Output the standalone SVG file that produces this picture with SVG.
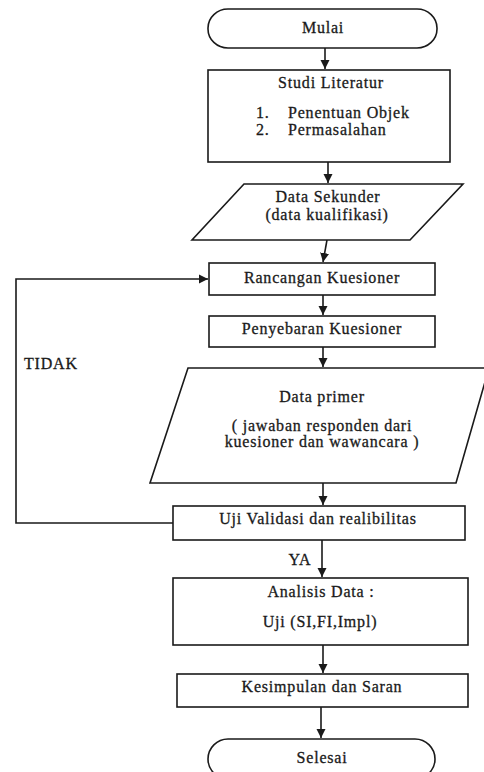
<svg xmlns="http://www.w3.org/2000/svg" width="484" height="772" viewBox="0 0 484 772">
<defs>
<marker id="ah" markerWidth="10" markerHeight="10" refX="9" refY="5" orient="auto" markerUnits="userSpaceOnUse">
<path d="M0,0.5 L9,5 L0,9.5 Z" fill="#1a1a1a"/>
</marker>
<style>
.s{fill:#fff;stroke:#1a1a1a;stroke-width:1.6}
.c{fill:none;stroke:#1a1a1a;stroke-width:1.6;marker-end:url(#ah)}
text{font-family:"Liberation Serif","Times New Roman",serif;font-size:16px;fill:#1a1a1a;stroke:#1a1a1a;stroke-width:0.3;letter-spacing:0.8px}
.m{text-anchor:middle}
</style>
</defs>
<rect width="484" height="772" fill="#fff"/>
<g id="connectors">
<line class="c" x1="325" y1="48" x2="325" y2="69"/>
<line class="c" x1="328" y1="162" x2="328" y2="183"/>
<line class="c" x1="327" y1="240" x2="323" y2="262"/>
<line class="c" x1="323" y1="295" x2="323" y2="315"/>
<line class="c" x1="323" y1="347" x2="323" y2="367"/>
<line class="c" x1="323" y1="483" x2="323" y2="505"/>
<line class="c" x1="322" y1="540" x2="322" y2="577"/>
<line class="c" x1="323" y1="645" x2="323" y2="673"/>
<line class="c" x1="321" y1="707" x2="321" y2="738"/>
<polyline class="c" points="173,523 16,523 16,279 208,279"/>
<text x="24" y="369">TIDAK</text>
<text class="m" x="300" y="565">YA</text>
</g>
<g id="mulai">
<rect class="s" x="208" y="9" width="229" height="39" rx="20" ry="19"/>
<text class="m" x="323" y="33">Mulai</text>
</g>
<g id="studi">
<rect class="s" x="208" y="70" width="242" height="92"/>
<text class="m" x="331" y="88">Studi Literatur</text>
<text x="256" y="118">1.</text>
<text x="288" y="118">Penentuan Objek</text>
<text x="256" y="135">2.</text>
<text x="288" y="135">Permasalahan</text>
</g>
<g id="sekunder">
<polygon class="s" points="244,184 463,184 410,240 192,240"/>
<text class="m" x="328" y="202">Data Sekunder</text>
<text class="m" x="327" y="220">(data kualifikasi)</text>
</g>
<g id="rancangan">
<rect class="s" x="209" y="263" width="226" height="32"/>
<text class="m" x="322" y="283">Rancangan Kuesioner</text>
</g>
<g id="penyebaran">
<rect class="s" x="209" y="316" width="226" height="31"/>
<text class="m" x="322" y="334">Penyebaran Kuesioner</text>
</g>
<g id="primer">
<polygon class="s" points="188,368 489,368 456,483 150,483"/>
<text class="m" x="322" y="402">Data primer</text>
<text class="m" x="322" y="431">( jawaban responden dari</text>
<text class="m" x="322" y="447">kuesioner dan wawancara )</text>
</g>
<g id="uji">
<rect class="s" x="173" y="506" width="292" height="34"/>
<text class="m" x="318" y="524">Uji Validasi dan realibilitas</text>
</g>
<g id="analisis">
<rect class="s" x="173" y="578" width="295" height="67"/>
<text class="m" x="321" y="597">Analisis Data :</text>
<text class="m" x="320" y="627">Uji (SI,FI,Impl)</text>
</g>
<g id="kesimpulan">
<rect class="s" x="177" y="674" width="291" height="33"/>
<text class="m" x="322" y="692">Kesimpulan dan Saran</text>
</g>
<g id="selesai">
<rect class="s" x="208" y="739" width="227" height="40" rx="20" ry="20"/>
<text class="m" x="322" y="763">Selesai</text>
</g>
</svg>
